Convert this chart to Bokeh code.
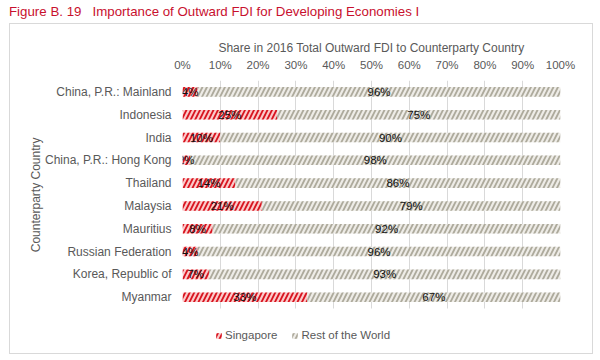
from bokeh.plotting import figure
from bokeh.models import (ColumnDataSource, FixedTicker, Legend, LegendItem,
                          Range1d, Div, Title)
from bokeh.layouts import column
from bokeh.core.properties import value
from bokeh.embed import file_html
from bokeh.resources import INLINE

countries = ["China, P.R.: Mainland", "Indonesia", "India", "China, P.R.: Hong Kong",
             "Thailand", "Malaysia", "Mauritius", "Russian Federation",
             "Korea, Republic of", "Myanmar"]
singapore = [4, 25, 10, 2, 14, 21, 8, 4, 7, 33]
rest_world = [96, 75, 90, 98, 86, 79, 92, 96, 93, 67]
tick_values = [0, 10, 20, 30, 40, 50, 60, 70, 80, 90, 100]
tick_labels = ["0%", "10%", "20%", "30%", "40%", "50%", "60%", "70%", "80%", "90%", "100%"]
title_text = "Figure B. 19   Importance of Outward FDI for Developing Economies I"
x_title = "Share in 2016 Total Outward FDI to Counterparty Country"
y_title = "Counterparty Country"

FONT = "Liberation Sans"
GRAY = "#595959"

n = len(countries)
ypos = [n - i - 0.5 for i in range(n)]   # row positions, first country on top

src = ColumnDataSource(dict(
    y=ypos,
    sg_end=singapore,
    rw_start=singapore,
    rw_end=[a + b for a, b in zip(singapore, rest_world)],
    sg_mid=[a / 2 for a in singapore],
    rw_mid=[a + b / 2 for a, b in zip(singapore, rest_world)],
    sg_lab=[f"{v}%" for v in singapore],
    rw_lab=[f"{v}%" for v in rest_world],
))

p = figure(width=584, height=331, output_backend="svg", toolbar_location=None,
           x_range=(0, 100), y_range=Range1d(-1.97, n),
           x_axis_location="above",
           min_border_left=172, min_border_right=34,
           min_border_top=56, min_border_bottom=2,
           margin=(0, 0, 0, 9),
           styles={"border": "1px solid #d9d9d9"})
p.outline_line_color = None
p.background_fill_color = None
p.border_fill_color = None

bar_h = 0.42
r_sg = p.hbar(y="y", left=0, right="sg_end", height=bar_h, source=src,
              fill_color="#fbcaca", line_color=None,
              hatch_pattern="/", hatch_color="#d8141f", hatch_scale=9, hatch_weight=1.8)
r_rw = p.hbar(y="y", left="rw_start", right="rw_end", height=bar_h, source=src,
              fill_color="#eeece7", line_color=None,
              hatch_pattern="/", hatch_color="#adaa9c", hatch_scale=9, hatch_weight=1.8)

p.text(x="sg_mid", y="y", text="sg_lab", source=src,
       text_align="center", text_baseline="middle", text_color="#111111",
       text_font=value(FONT), text_font_size="11.5px")
p.text(x="rw_mid", y="y", text="rw_lab", source=src,
       text_align="center", text_baseline="middle", text_color="#111111",
       text_font=value(FONT), text_font_size="11.5px")

xa = p.xaxis[0]
xa.ticker = FixedTicker(ticks=tick_values)
xa.major_label_overrides = {v: l for v, l in zip(tick_values, tick_labels)}
xa.axis_line_color = None
xa.major_tick_line_color = None
xa.minor_tick_line_color = None
xa.major_label_text_font = FONT
xa.major_label_text_font_size = "11.5px"
xa.major_label_text_color = GRAY
xa.major_label_standoff = 4
xa.axis_label = x_title
xa.axis_label_text_font = FONT
xa.axis_label_text_font_size = "12px"
xa.axis_label_text_font_style = "normal"
xa.axis_label_text_color = GRAY
xa.axis_label_standoff = 1

ya = p.yaxis[0]
ya.ticker = FixedTicker(ticks=ypos)
ya.major_label_overrides = {y: c for y, c in zip(ypos, countries)}
ya.axis_line_color = None
ya.major_tick_line_color = None
ya.minor_tick_line_color = None
ya.major_label_text_font = FONT
ya.major_label_text_font_size = "12px"
ya.major_label_text_color = GRAY
ya.major_label_standoff = 5

# y-axis title, centred on the rows (not on the whole frame)
try:
    ytitle = Title(text=y_title, align="right", offset=57, standoff=-3,
                   text_font=FONT, text_font_size="12px", text_font_style="normal",
                   text_color=GRAY)
except Exception:
    ytitle = Title(text=y_title, align="right", offset=57, standoff=0,
                   text_font=FONT, text_font_size="12px", text_font_style="normal",
                   text_color=GRAY)
p.add_layout(ytitle, "left")

p.ygrid.grid_line_color = None
try:
    p.xgrid.ticker = FixedTicker(ticks=tick_values)
    p.xgrid.grid_line_color = "#d9d9d9"
    p.xgrid.cross_bounds = (0, n)
except Exception:
    p.xgrid.grid_line_color = None
    p.segment(x0=tick_values, y0=[0] * len(tick_values),
              x1=tick_values, y1=[n] * len(tick_values),
              line_color="#d9d9d9", line_width=1, level="underlay")

legend = Legend(items=[LegendItem(label="Singapore", renderers=[r_sg]),
                       LegendItem(label="Rest of the World", renderers=[r_rw])],
                orientation="horizontal", location=(33, 12),
                glyph_width=7, glyph_height=7, label_standoff=3, spacing=14,
                padding=0, margin=0, border_line_color=None,
                background_fill_alpha=0,
                label_text_font=FONT, label_text_font_size="11.5px",
                label_text_color=GRAY)
p.add_layout(legend, "center")

title = Div(text=f'<div style="padding:4px 0 0 9px;white-space:pre;color:#c8102e;'
                 f'font-family:\'{FONT}\';font-size:13.3px;line-height:16px;">{title_text}</div>',
            width=600, height=23, margin=0)

layout = column(title, p, margin=0, spacing=0)

open("out.html", "w").write(file_html(layout, INLINE))
